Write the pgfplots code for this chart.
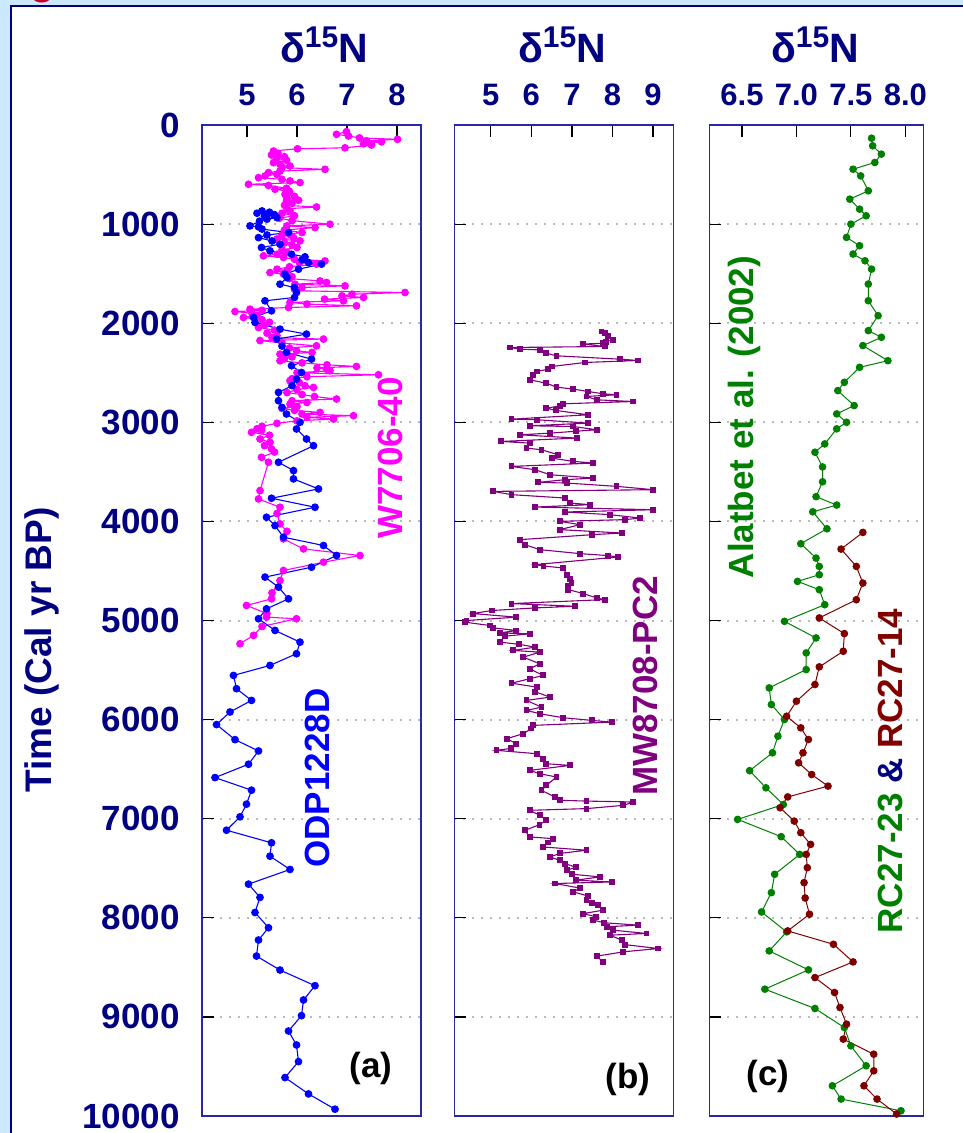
\documentclass[border=0pt]{standalone}
\usepackage{fontspec}
\setmainfont{Liberation Sans}
\usepackage{pgfplots}
\pgfplotsset{compat=1.18}
\definecolor{navy}{RGB}{0,0,128}
\definecolor{bgblue}{RGB}{204,232,255}
\definecolor{axblue}{RGB}{40,40,165}
\definecolor{gridgray}{RGB}{185,185,185}
\definecolor{odp}{RGB}{0,0,255}
\definecolor{wmag}{RGB}{255,0,255}
\definecolor{mwpur}{RGB}{128,0,128}
\definecolor{rcgreen}{RGB}{0,128,0}
\definecolor{rcred}{RGB}{128,0,0}
\definecolor{titlered}{RGB}{200,0,40}
\pgfplotsset{
  panel/.style={
    scale only axis, height=991pt, anchor=north west,
    y dir=reverse, ymin=0, ymax=10000,
    ytick={0,1000,...,10000},
    scaled y ticks=false, scaled x ticks=false,
    axis line style={axblue, line width=1.6pt},
    tick align=inside, major tick length=12pt,
    tick style={black, line width=1.2pt},
    xtick pos=right, xticklabel pos=right, ytick pos=left,
    ymajorgrids, grid style={gridgray, line width=2pt, dash pattern=on 2pt off 7pt},
    xticklabel style={font=\fontsize{31}{31}\selectfont\bfseries, text=navy, anchor=base, yshift=20pt},
    yticklabels={},
    clip=false,
  },
  ser/.style={line width=1.1pt, mark=*, mark size=3.3pt, mark options={solid}},
}
\begin{document}
\begin{tikzpicture}
\useasboundingbox (0pt,0pt) rectangle (963pt,-1133pt);
\fill[bgblue] (0pt,0pt) rectangle (963pt,-1133pt);
\fill[white] (11pt,-6pt) rectangle (1000pt,-1200pt);
\draw[navy, line width=2.4pt] (11pt,-1200pt) -- (11pt,-6pt) -- (1000pt,-6pt);
\node[anchor=base, text=titlered, font=\fontsize{40}{40}\selectfont\bfseries, inner sep=0pt] at (43pt,5.4pt) {g};

% ---------------- panel (a)
\begin{axis}[panel, at={(202pt,-125pt)}, width=219pt, xmin=4.1, xmax=8.48,
  xtick={5,6,7,8}, xticklabels={5,6,7,8},
  yticklabels={0,1000,2000,3000,4000,5000,6000,7000,8000,9000,10000},
  yticklabel style={font=\fontsize{35}{35}\selectfont\bfseries, text=navy, anchor=east, inner sep=0pt, xshift=-22pt}]
\addplot[ser, color=wmag] coordinates {
(6.99,67)(6.79,94)(7.03,111)(7.25,130)(8.01,144)(7.39,160)(7.69,170)(7.33,190)(7.49,202)(6.96,230)
(6.01,240)(5.53,262)(5.62,285)(5.49,302)(5.75,320)(5.59,336)(5.79,356)(5.53,380)(5.66,396)(5.86,413)
(5.70,430)(6.56,447)(5.66,465)(5.43,480)(5.60,497)(5.36,514)(5.23,531)(5.70,548)(5.86,564)(6.06,581)
(5.03,598)(5.43,610)(5.79,638)(5.56,648)(5.85,670)(5.76,699)(5.95,720)(5.80,740)(6.03,759)(5.79,766)
(5.90,790)(5.75,810)(6.39,827)(5.80,845)(5.86,867)(5.70,890)(5.95,915)(5.65,940)(5.90,965)(6.66,1001)
(5.80,1018)(6.36,1035)(5.75,1060)(6.10,1085)(5.70,1110)(5.93,1136)(5.60,1150)(6.06,1169)(5.75,1190)(5.90,1210)
(6.00,1236)(5.70,1260)(5.80,1285)(5.60,1304)(5.33,1320)(5.73,1337)(5.95,1355)(6.56,1371)(6.05,1390)(6.39,1404)
(5.85,1430)(5.60,1455)(5.80,1470)(5.46,1489)(5.73,1505)(5.90,1530)(5.85,1550)(6.46,1573)(6.59,1589)(5.96,1606)
(6.96,1623)(6.10,1640)(5.95,1656)(5.99,1673)(8.16,1690)(7.10,1707)(6.90,1724)(7.33,1740)(6.55,1757)(6.93,1774)
(5.86,1790)(6.20,1807)(7.19,1824)(5.83,1841)(5.06,1858)(5.30,1870)(4.76,1882)(5.10,1900)(5.20,1920)(4.93,1942)
(5.30,1965)(5.45,1990)(5.35,2020)(5.23,2043)(5.55,2070)(5.40,2100)(5.60,2125)(5.50,2145)(6.53,2160)(5.26,2175)
(5.70,2200)(6.39,2228)(5.85,2250)(5.99,2278)(6.30,2295)(5.66,2312)(5.90,2340)(5.75,2360)(5.66,2379)(6.10,2400)
(6.60,2420)(7.19,2436)(6.40,2450)(6.59,2463)(6.66,2480)(6.00,2500)(7.63,2520)(6.20,2540)(5.90,2560)(5.86,2580)
(6.05,2600)(6.16,2631)(6.33,2648)(6.00,2670)(5.80,2700)(6.10,2720)(6.35,2740)(6.79,2765)(5.90,2782)(6.20,2800)
(5.86,2816)(6.00,2840)(5.70,2860)(5.95,2880)(6.46,2900)(6.10,2916)(7.13,2933)(6.20,2950)(6.73,2967)(6.00,2985)
(5.60,3010)(5.30,3040)(5.20,3065)(5.29,3084)(5.09,3101)(5.45,3130)(5.26,3168)(5.46,3202)(5.35,3235)(5.49,3269)
(5.55,3300)(5.29,3353)(5.43,3403)(5.26,3689)(5.23,3773)(5.66,3857)(5.60,3920)(5.66,4025)(5.80,4100)(5.73,4176)
(6.13,4277)(7.26,4344)(6.53,4411)(5.73,4495)(5.66,4596)(5.50,4720)(5.49,4781)(4.99,4848)(5.40,4930)(5.39,4966)
(5.99,4982)(5.30,5060)(5.13,5150)(4.86,5234)
};
\addplot[ser, color=odp] coordinates {
(5.30,867)(5.45,880)(5.20,890)(5.55,905)(5.35,920)(5.60,935)(5.40,950)(5.25,970)(5.06,1018)(5.23,1028)
(5.30,1050)(5.83,1085)(5.40,1110)(5.23,1136)(5.50,1170)(5.66,1203)(5.29,1236)(5.46,1270)(5.89,1304)(6.16,1330)
(6.10,1360)(6.23,1388)(6.49,1404)(6.03,1455)(5.76,1505)(5.80,1540)(5.66,1606)(5.95,1640)(5.99,1690)(5.95,1740)
(5.36,1774)(5.49,1875)(5.13,1942)(5.16,1992)(5.66,2060)(6.19,2110)(5.59,2160)(5.70,2230)(5.79,2295)(6.29,2362)
(5.89,2429)(6.09,2497)(5.99,2564)(5.90,2630)(5.63,2698)(5.63,2782)(5.70,2850)(5.79,2916)(6.06,3000)(5.99,3067)
(6.19,3168)(6.33,3236)(5.63,3403)(5.93,3487)(5.93,3571)(6.43,3672)(5.49,3766)(6.36,3857)(5.39,3958)(5.56,4042)
(5.73,4159)(6.53,4243)(6.79,4344)(6.29,4462)(5.36,4562)(5.63,4663)(5.83,4781)(5.39,4882)(5.23,4982)(5.56,5100)
(6.06,5218)(5.99,5335)(5.46,5453)(4.73,5554)(4.79,5688)(5.09,5806)(4.66,5923)(4.39,6050)(4.76,6202)(5.23,6316)
(5.03,6450)(4.36,6585)(5.09,6712)(4.99,6853)(4.86,6981)(4.59,7116)(5.49,7243)(5.46,7378)(5.86,7512)(5.03,7660)
(5.26,7794)(5.16,7946)(5.43,8100)(5.23,8224)(5.19,8386)(5.66,8527)(6.36,8685)(6.13,8829)(6.09,8987)(5.83,9142)
(5.99,9283)(6.03,9451)(5.76,9612)(6.23,9777)(6.76,9931)
};
\end{axis}

% ---------------- panel (b)
\begin{axis}[panel, at={(454.3pt,-125pt)}, width=219pt, xmin=4.1, xmax=9.5,
  xtick={5,6,7,8,9}, xticklabels={5,6,7,8,9}]
\addplot[ser, color=mwpur, mark=square*, mark size=2.4pt] coordinates {
(7.73,2084)(7.81,2101)(7.90,2128)(8.02,2168)(7.85,2185)(7.77,2202)(7.28,2210)(7.81,2235)(5.47,2245)(5.72,2262)
(6.21,2269)(6.37,2302)(6.62,2329)(8.19,2363)(8.64,2376)(7.32,2396)(6.50,2437)(6.42,2464)(6.13,2487)(6.05,2521)
(5.96,2571)(6.37,2605)(6.62,2645)(7.03,2665)(7.40,2689)(7.77,2712)(8.10,2722)(7.36,2739)(7.61,2773)(8.51,2790)
(6.79,2813)(6.70,2835)(6.37,2857)(6.60,2880)(7.40,2924)(5.51,2968)(6.13,2974)(7.40,3008)(5.96,3035)(7.03,3042)
(7.61,3075)(7.10,3090)(6.46,3109)(5.72,3126)(7.12,3159)(5.26,3193)(5.96,3210)(5.88,3260)(6.25,3277)(6.66,3327)
(6.50,3361)(7.03,3394)(7.53,3411)(5.51,3445)(6.09,3478)(6.46,3529)(7.53,3562)(6.83,3579)(6.17,3606)(6.87,3613)
(8.10,3646)(9.01,3680)(5.06,3697)(5.51,3730)(6.83,3764)(6.95,3814)(7.44,3831)(6.09,3855)(9.01,3882)(6.83,3905)
(7.94,3932)(8.68,3966)(8.31,3982)(6.70,3999)(7.20,4033)(6.70,4083)(8.23,4117)(7.49,4134)(5.72,4184)(5.84,4234)
(6.21,4285)(7.20,4325)(7.90,4345)(8.14,4359)(6.09,4436)(6.30,4450)(6.79,4470)(6.87,4537)(6.95,4580)(6.99,4621)
(6.90,4650)(6.91,4688)(7.28,4728)(7.61,4772)(7.81,4789)(5.51,4829)(7.07,4856)(6.09,4873)(5.02,4899)(4.56,4930)
(5.63,4966)(4.40,5000)(4.37,5017)(4.97,5050)(5.06,5074)(5.63,5101)(5.22,5125)(5.96,5134)(5.35,5158)(5.22,5218)
(5.70,5240)(6.09,5269)(5.55,5302)(6.21,5319)(5.80,5370)(6.21,5437)(5.96,5487)(6.29,5554)(5.96,5588)(5.51,5632)
(6.13,5672)(6.10,5720)(6.46,5773)(5.88,5806)(6.25,5874)(5.88,5907)(6.21,5941)(6.79,5981)(7.49,6008)(7.98,6025)
(6.05,6058)(6.00,6090)(5.80,6142)(5.39,6193)(5.63,6243)(5.50,6290)(5.14,6310)(6.13,6344)(6.29,6394)(6.37,6445)
(6.95,6462)(5.96,6512)(6.21,6546)(6.62,6579)(6.37,6663)(6.25,6714)(6.58,6781)(6.70,6814)(7.36,6822)(8.51,6831)
(8.27,6865)(7.36,6898)(5.96,6915)(6.21,6966)(6.37,7016)(6.20,7060)(5.84,7117)(5.96,7184)(6.54,7201)(6.40,7240)
(6.29,7285)(7.36,7318)(6.70,7350)(6.46,7386)(6.70,7420)(6.83,7453)(7.10,7490)(6.87,7520)(7.00,7560)(7.69,7587)
(7.10,7620)(7.98,7638)(6.58,7654)(7.20,7700)(7.03,7738)(7.40,7780)(7.36,7822)(7.50,7850)(7.65,7873)(7.77,7923)
(7.28,7957)(7.60,7990)(7.53,8024)(7.80,8050)(8.64,8074)(7.86,8090)(8.02,8125)(8.84,8158)(7.94,8175)(8.23,8226)
(8.30,8270)(9.13,8310)(8.27,8343)(7.61,8387)(7.77,8444)
};
\end{axis}

% ---------------- panel (c)
\begin{axis}[panel, at={(709.3pt,-125pt)}, width=214pt, xmin=6.2, xmax=8.165,
  xtick={6.5,7,7.5,8}, xticklabels={6.5,7.0,7.5,8.0}]
\addplot[ser, color=rcgreen, line width=1pt] coordinates {
(7.69,133)(7.70,210)(7.78,294)(7.72,378)(7.52,446)(7.59,513)(7.66,664)(7.49,748)(7.58,849)(7.64,916)
(7.50,1000)(7.46,1134)(7.58,1218)(7.52,1302)(7.63,1370)(7.69,1454)(7.66,1605)(7.66,1773)(7.75,1924)(7.66,2075)
(7.78,2142)(7.61,2226)(7.84,2378)(7.58,2445)(7.44,2596)(7.38,2680)(7.53,2831)(7.37,2915)(7.46,3000)(7.37,3066)
(7.26,3218)(7.17,3302)(7.24,3450)(7.24,3600)(7.18,3750)(7.37,3835)(7.15,3903)(7.28,4074)(7.04,4225)(7.18,4370)
(7.21,4454)(7.21,4538)(7.01,4605)(7.21,4689)(7.26,4840)(6.89,5008)(7.18,5176)(7.09,5327)(7.09,5495)(6.75,5680)
(6.77,5848)(6.89,5999)(6.83,6167)(6.78,6335)(6.57,6515)(6.72,6688)(6.88,6856)(6.46,7007)(6.86,7181)(7.03,7360)
(6.80,7561)(6.77,7746)(6.68,7941)(6.91,8142)(6.75,8334)(7.11,8525)(6.71,8720)(7.17,8915)(7.44,9107)(7.50,9292)
(7.64,9493)(7.33,9695)(7.41,9829)(7.96,9947)
};
\addplot[ser, color=rcred, line width=1pt] coordinates {
(7.61,4111)(7.41,4279)(7.55,4454)(7.61,4622)(7.55,4790)(7.21,4974)(7.44,5132)(7.43,5310)(7.21,5468)(7.17,5646)
(7.00,5814)(6.91,5966)(7.04,6083)(7.11,6201)(7.06,6335)(7.02,6436)(7.14,6554)(7.29,6671)(6.92,6780)(6.85,6889)
(6.98,7024)(7.04,7141)(7.13,7259)(7.09,7360)(7.10,7494)(7.07,7645)(7.08,7800)(7.12,7964)(6.92,8132)(7.34,8267)
(7.52,8445)(7.17,8603)(7.35,8754)(7.40,8905)(7.46,9073)(7.43,9224)(7.71,9376)(7.71,9544)(7.62,9695)(7.74,9829)
(7.92,9980)
};
\end{axis}

% ---------------- titles and labels
\foreach \xx in {324,562,815}{
  \node[anchor=base, text=navy, inner sep=0pt, font=\fontsize{41}{41}\selectfont\bfseries] at (\xx pt,-62pt)
    {δ\raisebox{15pt}{\fontsize{30}{30}\selectfont 15}N};
}
\node[rotate=90, text=navy, font=\fontsize{37}{37}\selectfont\bfseries] at (42pt,-650pt) {Time (Cal yr BP)};
\node[rotate=90, text=odp, font=\fontsize{35}{35}\selectfont\bfseries] at (317.5pt,-778pt) {ODP1228D};
\node[rotate=90, text=wmag, font=\fontsize{35}{35}\selectfont\bfseries] at (390pt,-458pt) {W7706-40};
\node[rotate=90, text=mwpur, font=\fontsize{35}{35}\selectfont\bfseries] at (645.5pt,-686pt) {MW8708-PC2};
\node[rotate=90, text=rcgreen, font=\fontsize{35}{35}\selectfont\bfseries] at (744pt,-417pt) {Alatbet et al. (2002)};
\node[rotate=90, font=\fontsize{35}{35}\selectfont\bfseries] at (890.5pt,-771pt)
  {\textcolor{rcgreen}{RC27-23} \textcolor{navy}{\&} \textcolor{rcred}{RC27-14}};
\node[font=\fontsize{35}{35}\selectfont\bfseries] at (371pt,-1068pt) {(a)};
\node[font=\fontsize{35}{35}\selectfont\bfseries] at (628pt,-1079pt) {(b)};
\node[font=\fontsize{35}{35}\selectfont\bfseries] at (768pt,-1076pt) {(c)};
\end{tikzpicture}
\end{document}
